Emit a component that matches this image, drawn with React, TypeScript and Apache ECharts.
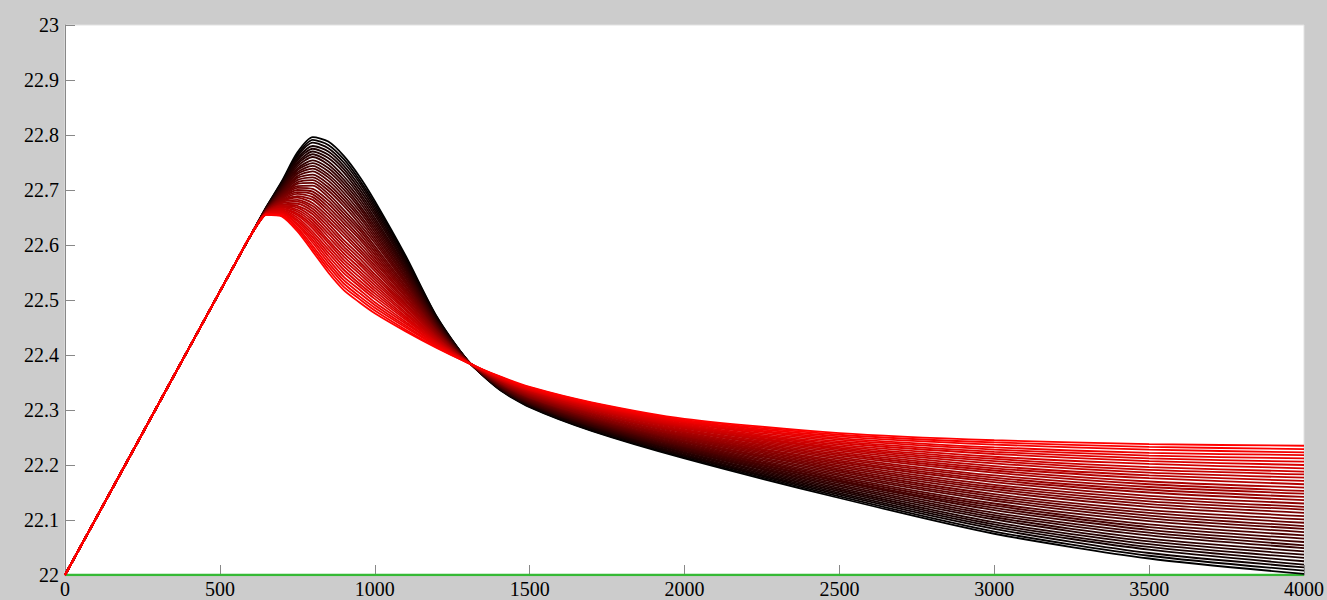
import React, { useEffect, useRef } from "react";
import * as echarts from "echarts";

// shared initial ramp (all curves coincide here)
const rampX = [0, 300, 550, 600];
const rampY = [22.0, 22.309, 22.567, 22.618];

// x positions where the curve family separates
const xs = [650, 700, 750, 800, 850, 900, 950, 1000, 1100, 1200, 1300, 1400, 1500, 1700, 2000, 2500, 3000, 3500, 4000];

// value of each of the 41 curves (index 0 = black ... 40 = red) at each x
const at650 = [22.669,22.669,22.668,22.668,22.668,22.667,22.667,22.667,22.666,22.666,22.666,22.665,22.665,22.664,22.664,22.664,22.663,22.663,22.663,22.662,22.662,22.662,22.661,22.661,22.661,22.660,22.660,22.660,22.659,22.659,22.659,22.658,22.658,22.657,22.657,22.657,22.656,22.656,22.656,22.655,22.655];
const at700 = [22.716,22.714,22.713,22.711,22.710,22.708,22.706,22.705,22.703,22.702,22.700,22.698,22.697,22.695,22.694,22.692,22.690,22.689,22.687,22.686,22.684,22.682,22.681,22.679,22.678,22.676,22.674,22.673,22.671,22.670,22.668,22.666,22.665,22.663,22.662,22.660,22.658,22.657,22.655,22.654,22.652];
const at750 = [22.768,22.764,22.761,22.757,22.754,22.750,22.747,22.743,22.739,22.736,22.732,22.729,22.725,22.722,22.718,22.714,22.711,22.707,22.704,22.700,22.696,22.693,22.689,22.686,22.682,22.679,22.675,22.671,22.668,22.664,22.661,22.657,22.654,22.650,22.646,22.643,22.639,22.636,22.632,22.629,22.625];
const at800 = [22.796,22.791,22.786,22.780,22.775,22.770,22.765,22.760,22.754,22.749,22.744,22.739,22.734,22.728,22.723,22.718,22.713,22.708,22.702,22.697,22.692,22.687,22.682,22.676,22.671,22.666,22.661,22.656,22.650,22.645,22.640,22.635,22.630,22.624,22.619,22.614,22.609,22.604,22.598,22.593,22.588];
const at850 = [22.788,22.782,22.776,22.770,22.764,22.758,22.752,22.746,22.740,22.734,22.728,22.723,22.717,22.711,22.705,22.699,22.693,22.687,22.681,22.675,22.669,22.663,22.657,22.651,22.645,22.639,22.633,22.627,22.621,22.615,22.609,22.604,22.598,22.592,22.586,22.580,22.574,22.568,22.562,22.556,22.550];
const at900 = [22.762,22.756,22.750,22.744,22.738,22.732,22.725,22.719,22.713,22.707,22.701,22.695,22.689,22.683,22.677,22.671,22.664,22.658,22.652,22.646,22.640,22.634,22.628,22.622,22.616,22.609,22.603,22.597,22.591,22.585,22.579,22.573,22.567,22.561,22.555,22.549,22.542,22.536,22.530,22.524,22.518];
const at950 = [22.725,22.719,22.714,22.708,22.702,22.696,22.691,22.685,22.679,22.673,22.668,22.662,22.656,22.651,22.645,22.639,22.633,22.628,22.622,22.616,22.611,22.605,22.599,22.593,22.588,22.582,22.576,22.570,22.565,22.559,22.553,22.548,22.542,22.536,22.530,22.525,22.519,22.513,22.507,22.502,22.496];
const at1000 = [22.680,22.675,22.670,22.665,22.660,22.655,22.649,22.644,22.639,22.634,22.629,22.624,22.619,22.614,22.609,22.604,22.598,22.593,22.588,22.583,22.578,22.573,22.568,22.563,22.558,22.553,22.547,22.542,22.537,22.532,22.527,22.522,22.517,22.512,22.507,22.502,22.496,22.491,22.486,22.481,22.476];
const at1100 = [22.580,22.577,22.573,22.570,22.566,22.563,22.559,22.556,22.553,22.549,22.546,22.542,22.539,22.535,22.532,22.529,22.525,22.522,22.518,22.515,22.512,22.508,22.505,22.501,22.498,22.494,22.491,22.488,22.484,22.481,22.477,22.474,22.470,22.467,22.464,22.460,22.457,22.453,22.450,22.446,22.443];
const at1200 = [22.470,22.469,22.467,22.466,22.464,22.463,22.461,22.460,22.459,22.457,22.456,22.454,22.453,22.451,22.450,22.449,22.447,22.446,22.444,22.443,22.442,22.440,22.439,22.437,22.436,22.434,22.433,22.432,22.430,22.429,22.427,22.426,22.424,22.423,22.422,22.420,22.419,22.417,22.416,22.414,22.413];
const at1300 = [22.390,22.390,22.390,22.390,22.390,22.390,22.389,22.389,22.389,22.389,22.389,22.389,22.389,22.389,22.389,22.389,22.388,22.388,22.388,22.388,22.388,22.388,22.388,22.388,22.388,22.388,22.387,22.387,22.387,22.387,22.387,22.387,22.387,22.387,22.387,22.387,22.386,22.386,22.386,22.386,22.386];
const at1400 = [22.338,22.339,22.339,22.340,22.340,22.341,22.342,22.342,22.343,22.343,22.344,22.345,22.345,22.346,22.346,22.347,22.348,22.348,22.349,22.349,22.350,22.351,22.351,22.352,22.352,22.353,22.354,22.354,22.355,22.355,22.356,22.357,22.357,22.358,22.358,22.359,22.360,22.360,22.361,22.361,22.362];
const at1500 = [22.305,22.306,22.307,22.308,22.309,22.310,22.311,22.311,22.312,22.313,22.314,22.315,22.316,22.317,22.318,22.319,22.320,22.321,22.322,22.323,22.323,22.324,22.325,22.326,22.327,22.328,22.329,22.330,22.331,22.332,22.333,22.334,22.335,22.336,22.336,22.337,22.338,22.339,22.340,22.341,22.342];
const at1700 = [22.262,22.263,22.265,22.266,22.267,22.269,22.270,22.271,22.272,22.274,22.275,22.276,22.278,22.279,22.280,22.281,22.283,22.284,22.285,22.287,22.288,22.289,22.291,22.292,22.293,22.295,22.296,22.297,22.298,22.300,22.301,22.302,22.304,22.305,22.306,22.308,22.309,22.310,22.311,22.313,22.314];
const at2000 = [22.212,22.214,22.216,22.217,22.219,22.221,22.223,22.225,22.226,22.228,22.230,22.232,22.234,22.235,22.237,22.239,22.241,22.243,22.244,22.246,22.248,22.250,22.252,22.253,22.255,22.257,22.259,22.261,22.262,22.264,22.266,22.268,22.270,22.271,22.273,22.275,22.277,22.279,22.280,22.282,22.284];
const at2500 = [22.140,22.143,22.146,22.149,22.152,22.155,22.158,22.161,22.164,22.167,22.170,22.172,22.175,22.178,22.181,22.184,22.187,22.190,22.193,22.196,22.199,22.202,22.205,22.208,22.211,22.214,22.217,22.220,22.223,22.226,22.229,22.231,22.234,22.237,22.240,22.243,22.246,22.249,22.252,22.255,22.258];
const at3000 = [22.075,22.079,22.084,22.088,22.092,22.096,22.101,22.105,22.109,22.113,22.118,22.122,22.126,22.130,22.135,22.139,22.143,22.147,22.152,22.156,22.160,22.164,22.169,22.173,22.177,22.181,22.186,22.190,22.194,22.198,22.203,22.207,22.211,22.215,22.220,22.224,22.228,22.232,22.237,22.241,22.245];
const at3500 = [22.030,22.035,22.040,22.046,22.051,22.056,22.061,22.066,22.072,22.077,22.082,22.087,22.092,22.098,22.103,22.108,22.113,22.118,22.124,22.129,22.134,22.139,22.144,22.150,22.155,22.160,22.165,22.170,22.176,22.181,22.186,22.191,22.196,22.202,22.207,22.212,22.217,22.222,22.228,22.233,22.238];
const at4000 = [22.002,22.008,22.014,22.019,22.025,22.031,22.037,22.043,22.049,22.054,22.060,22.066,22.072,22.078,22.084,22.089,22.095,22.101,22.107,22.113,22.119,22.124,22.130,22.136,22.142,22.148,22.153,22.159,22.165,22.171,22.177,22.183,22.188,22.194,22.200,22.206,22.212,22.218,22.223,22.229,22.235];

const columns = [at650, at700, at750, at800, at850, at900, at950, at1000, at1100, at1200, at1300, at1400, at1500, at1700, at2000, at2500, at3000, at3500, at4000];

// green baseline
const baselineX = [0, 4000];
const baselineY = [22, 22];

const CURVE_COUNT = 41;

export default function App() {
  const ref = useRef<HTMLDivElement>(null);

  useEffect(() => {
    if (!ref.current) return;
    const chart = echarts.init(ref.current, undefined, { renderer: "svg" });

    const series: any[] = [
      {
        type: "line",
        data: baselineX.map((x, i) => [x, baselineY[i]]),
        showSymbol: false,
        lineStyle: { color: "#35b935", width: 2.5 },
        itemStyle: { color: "#35b935" },
        silent: true,
      },
    ];

    for (let k = 0; k < CURVE_COUNT; k++) {
      const r = Math.round((255 * k) / (CURVE_COUNT - 1));
      const color = `rgb(${r},0,0)`;
      const data: number[][] = rampX.map((x, i) => [x, rampY[i]]);
      xs.forEach((x, i) => {
        const col = columns[i];
        data.push([x, col[Math.min(k, col.length - 1)]]);
      });
      series.push({
        type: "line",
        data,
        showSymbol: false,
        smooth: 0.25,
        lineStyle: { color, width: 1.8 },
        itemStyle: { color },
        silent: true,
      });
    }

    const labelStyle = {
      color: "#000",
      fontFamily: "Liberation Serif",
      fontSize: 20,
    };

    chart.setOption({
      animation: false,
      backgroundColor: "#cccccc",
      grid: {
        left: 65,
        right: 20,
        top: 25,
        bottom: 25,
        show: true,
        backgroundColor: "#ffffff",
        borderColor: "#e2e2e2",
        borderWidth: 1,
      },
      xAxis: {
        type: "value",
        min: 0,
        max: 4000,
        interval: 500,
        axisLine: { show: true, lineStyle: { color: "#888888", width: 1 } },
        axisTick: { show: true, inside: true, length: 10, lineStyle: { color: "#888888" } },
        axisLabel: { ...labelStyle, margin: 4, formatter: (v: number) => String(v) },
        splitLine: { show: false },
      },
      yAxis: {
        type: "value",
        min: 22,
        max: 23,
        interval: 0.1,
        axisLine: { show: true, lineStyle: { color: "#888888", width: 1 } },
        axisTick: { show: true, inside: true, length: 10, lineStyle: { color: "#888888" } },
        axisLabel: { ...labelStyle, margin: 6 },
        splitLine: { show: false },
      },
      series,
    });

    return () => {
      chart.dispose();
    };
  }, []);

  return (
    <div
      ref={ref}
      style={{ position: "absolute", left: 0, top: 0, width: 1327, height: 600 }}
    />
  );
}
